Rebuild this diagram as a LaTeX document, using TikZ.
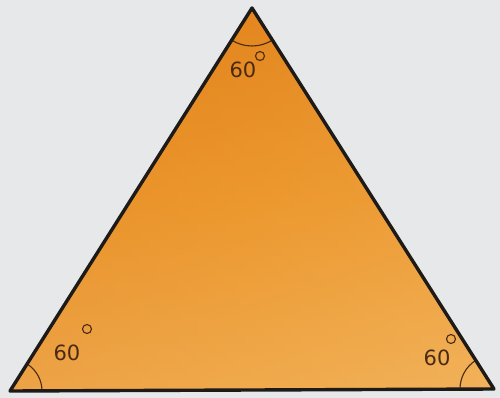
\documentclass[tikz,border=0pt]{standalone}
\usepackage{fontspec}
\setmainfont{DejaVu Sans}
\definecolor{bg}{HTML}{E6E8EA}
\definecolor{orangeA}{HTML}{E07E18}
\definecolor{orangeM}{HTML}{EC982E}
\definecolor{orangeB}{HTML}{F2B35C}
\definecolor{ink}{HTML}{1E1A18}
\definecolor{pencil}{HTML}{4A2A12}
\tikzset{
  edge/.style={draw=ink, line width=3.4pt, line join=round},
  anglearc/.style={draw=pencil, line width=1.1pt},
  deg/.style={font=\fontsize{21}{21}\selectfont, text=pencil, inner sep=0pt},
  degmark/.style={draw=pencil, line width=1.1pt}
}
\begin{document}
\begin{tikzpicture}[x=1pt,y=-1pt]
\fill[bg] (0,0) rectangle (500,398);
\useasboundingbox (0,0) rectangle (500,398);
\coordinate (T) at (252,8);
\coordinate (L) at (10,391);
\coordinate (R) at (494,389);
\begin{scope}
  \clip (T) -- (L) -- (R) -- cycle;
  \shade[top color=orangeA, bottom color=orangeB, middle color=orangeM] (0,0) rectangle (500,398);
  \shade[left color=orangeA, right color=orangeB, middle color=orangeM, opacity=0.3] (0,0) rectangle (500,398);
\end{scope}
% angle arcs
\draw[anglearc] (T) ++(123:38) arc[start angle=123, end angle=57, radius=38];
\draw[anglearc] (L) ++(0:32) arc[start angle=0, end angle=-57, radius=32];
\draw[anglearc] (R) ++(180:34) arc[start angle=180, end angle=237, radius=34];
\draw[edge] (T) -- (L) -- (R) -- cycle;
% labels
\node[deg] (t60) at (243,70) {60};
\draw[degmark] (260,56) circle (4.5);
\node[deg] (l60) at (67,353) {60};
\draw[degmark] (87,329) circle (4.5);
\node[deg] (r60) at (437,358) {60};
\draw[degmark] (451,339) circle (4.5);
\end{tikzpicture}
\end{document}
